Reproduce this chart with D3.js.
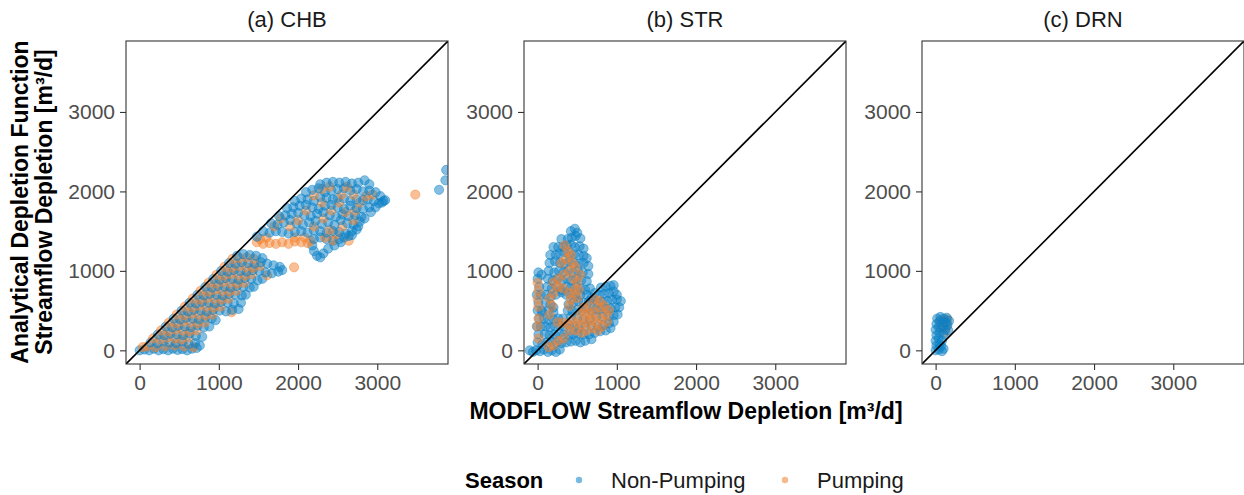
<!DOCTYPE html>
<html>
<head>
<meta charset="utf-8"/>
<script src="https://d3js.org/d3.v7.min.js"></script>
<style type="text/css">
body {
  margin: 0;
  background: #fff;
  font-family: "Liberation Sans", Arial, Helvetica, sans-serif;
}
</style>
</head>
<body>
<div id="v"></div>
<script type="text/javascript">
// axis setup (same for both axes and all panels)
var ticks = [0, 1000, 2000, 3000];
var domain = [-172, 3893];
var panelTitles = ["(a) CHB", "(b) STR", "(c) DRN"];
var seasons = ["Non-Pumping", "Pumping"];
var seasonColors = ["#0a80c6", "#f3822f"];

// (a) CHB, [MODFLOW, analytical]
var chbNonPumping = [
  [0,0],[60,10],[120,0],[180,20],[240,0],[300,15],[360,0],[420,20],[480,5],[540,15],[600,0],[660,20],[720,30],[760,60],
  [140,100],[220,90],[300,110],[380,100],[460,90],[540,110],[620,80],[700,90],
  [230,200],[310,190],[390,210],[470,200],[550,190],[630,210],[710,180],[790,170],
  [330,300],[410,290],[490,310],[570,300],[650,290],[730,310],[810,290],[880,300],
  [430,400],[510,390],[590,410],[670,400],[750,390],[830,410],[910,400],[960,380],
  [530,500],[610,490],[690,510],[770,500],[850,490],[930,510],[1010,500],[1090,490],[1170,510],[1250,520],
  [630,600],[710,590],[790,610],[870,600],[950,590],[1030,610],[1110,600],[1190,590],[1280,600],
  [730,700],[810,690],[890,710],[970,700],[1050,690],[1130,710],[1210,700],[1290,690],[1340,700],
  [830,800],[910,790],[990,810],[1070,800],[1150,790],[1230,810],[1310,800],[1390,790],[1440,800],
  [930,900],[1010,890],[1090,910],[1170,900],[1250,890],[1330,910],[1410,900],[1490,880],[1550,900],
  [1030,1000],[1110,990],[1190,1010],[1270,1000],[1350,990],[1430,1010],[1510,1000],[1590,980],[1670,970],[1750,990],[1800,1010],
  [1130,1100],[1210,1090],[1290,1110],[1370,1100],[1450,1090],[1530,1110],[1610,1090],[1690,1070],[1770,1050],
  [1230,1190],[1310,1210],[1390,1200],[1470,1190],[1550,1160],
  [2280,2090],[2360,2110],[2440,2120],[2520,2110],[2600,2120],[2680,2100],[2760,2110],[2840,2140],[2900,2090],
  [2100,1990],[2180,2020],[2260,2040],[2340,1990],[2420,2010],[2500,2030],[2580,2040],[2660,2010],[2740,2030],[2820,2000],[2900,2010],[2980,1990],[3040,1940],
  [1960,1880],[2040,1910],[2120,1900],[2200,1880],[2280,1930],[2360,1920],[2440,1900],[2500,1920],[2580,1910],[2660,1880],[2740,1900],[2820,1890],[2880,1900],[2960,1880],[3080,1880],[3020,1850],
  [1860,1790],[1940,1800],[2020,1820],[2100,1830],[2180,1800],[2260,1780],[2340,1820],[2420,1830],[2500,1800],[2580,1780],[2660,1820],[2740,1790],[2820,1780],[2900,1800],
  [1760,1690],[1840,1700],[1920,1720],[2000,1730],[2080,1700],[2160,1690],[2240,1720],[2320,1740],[2400,1700],[2480,1680],[2560,1710],[2640,1690],[2720,1700],[2800,1680],
  [1660,1600],[1740,1580],[1820,1610],[1900,1640],[1980,1600],[2060,1580],[2140,1610],[2220,1630],[2300,1590],[2380,1610],[2460,1580],[2540,1640],[2620,1600],[2700,1580],[2780,1620],
  [1560,1500],[1640,1480],[1720,1500],[1800,1490],[1880,1470],[1960,1490],[2040,1500],[2120,1480],[2200,1510],[2280,1500],[2360,1480],[2440,1500],[2520,1490],[2600,1470],[2680,1500],[2740,1520],
  [1480,1430],[2200,1400],[2280,1420],[2360,1400],[2440,1380],[2520,1400],[2580,1420],[2640,1440],
  [2180,1320],[2200,1250],[2240,1190],[2280,1170],[2320,1220],[2380,1280],[2460,1320],[2540,1360],[2680,1450],[2760,1560],[2840,1660],[2920,1740],[2980,1800],[3060,1860],[3100,1890],
  [3780,2020],[3860,2140],[3870,2270]
];
var chbPumping = [
  [40,40],[100,50],[200,40],[320,50],[440,60],[560,50],[680,40],
  [170,150],[260,140],[350,160],[440,150],[530,140],[620,160],
  [270,250],[360,240],[450,260],[540,250],[630,240],[720,250],
  [370,350],[460,340],[550,360],[640,350],[730,340],[820,350],
  [470,450],[560,440],[650,460],[740,450],[830,440],[920,450],
  [570,550],[660,540],[750,560],[840,550],[930,540],[1020,550],
  [670,650],[760,640],[850,660],[940,650],[1030,640],[1120,650],
  [770,750],[860,740],[950,760],[1040,750],[1130,740],[1220,750],
  [870,850],[960,840],[1050,860],[1140,850],[1230,840],[1320,850],
  [970,950],[1060,940],[1150,960],[1240,950],[1330,940],[1420,960],
  [1070,1050],[1160,1040],[1250,1060],[1340,1050],[1430,1040],[1520,1060],
  [1170,1150],[1260,1160],[1350,1170],[1440,1150],
  [1160,480],[1610,945],[1950,1045],
  [1480,1360],[1560,1340],[1640,1350],[1720,1340],[1800,1360],[1880,1340],[1960,1370],[2040,1360],[2120,1350],[2160,1380],[1520,1400],[1600,1420],
  [1700,1560],[1780,1660],[1900,1560],[2000,1640],[2100,1760],[2200,1560],[2320,1660],[2420,1760],[2300,1860],[2200,1950],[2300,2030],[2400,2060],
  [2550,1960],[2620,2060],[2700,1960],[2780,1860],[2860,1940],[2940,1960],[2520,1860],[2600,1740],[2700,1640],[2560,1560],[2480,1460],[2400,1520],
  [2340,1420],[2080,1420],[1960,1420],[2640,1380],[2440,1385],[2720,1760],[3480,1960]
];

// (b) STR
var strNonPumping = [
  [-100,0],[-60,-20],[-20,0],[30,-10],[80,10],[130,-20],[180,0],[230,-20],[280,10],
  [0,100],[10,200],[-10,300],[20,400],[0,500],[10,600],[-10,700],[20,800],[0,900],[10,980],[50,950],[40,700],[50,500],[40,300],
  [420,1500],[470,1530],[500,1480],
  [300,1400],[380,1400],[430,1420],[480,1440],[540,1410],
  [200,1300],[260,1300],[320,1300],[370,1320],[420,1330],[470,1300],[530,1310],[580,1280],
  [160,1200],[230,1200],[280,1220],[340,1230],[400,1200],[460,1210],[520,1200],[580,1190],[620,1160],
  [150,1100],[220,1120],[280,1100],[340,1090],[400,1120],[460,1100],[520,1090],[580,1100],[640,1060],
  [140,1000],[210,980],[270,1000],[330,990],[390,1010],[450,980],[510,1000],[570,980],[640,960],
  [130,900],[190,880],[250,900],[310,880],[370,900],[430,880],[490,900],[550,880],[620,870],
  [120,800],[180,780],[240,800],[300,760],[360,800],[420,790],[480,800],[540,780],[600,760],[660,780],
  [110,700],[170,680],[230,700],[300,730],[360,700],[420,700],[480,680],[540,700],[620,700],[680,660],
  [100,600],[160,580],[200,540],[390,580],[450,600],[510,620],[580,600],[650,620],
  [800,790],[860,800],[920,810],[960,820],
  [720,720],[780,700],[840,710],[900,720],[960,740],[1000,700],
  [700,620],[760,600],[820,610],[880,620],[940,640],[1000,640],[1050,620],
  [60,480],[140,500],[200,480],[380,500],[440,490],[500,510],[560,500],[620,520],[680,500],[740,510],[800,520],[860,520],[920,530],[980,540],[1030,540],
  [80,400],[140,380],[200,390],[260,400],[320,400],[420,420],[500,400],[580,390],[660,400],[740,420],[820,420],[900,430],[960,440],[1010,450],
  [100,300],[160,290],[220,300],[280,310],[340,300],[400,310],[460,300],[520,280],[600,300],[680,310],[760,300],[830,320],[900,340],[960,360],
  [90,200],[150,190],[210,200],[270,210],[330,200],[390,190],[450,200],[510,210],[580,200],[650,200],[720,220],[790,240],[860,250],[920,280],
  [60,80],[120,100],[180,110],[240,100],[300,90],[360,100],[420,110],[480,120],[540,100],[600,120],[680,140]
];
var strPumping = [
  [10,550],[0,650],[10,750],[0,850],[10,400],[0,300],[10,150],
  [340,1320],[380,1250],[420,1200],[360,1150],[300,1100],[440,1100],[400,1000],[330,950],[260,900],[200,850],[450,900],[500,850],
  [260,800],[320,780],[200,720],[150,650],[400,720],[460,760],[520,760],[500,660],[420,640],[180,560],[150,450],[400,560],[540,950],[480,1050],
  [250,350],[320,350],[380,330],[440,380],[500,350],[560,330],[620,360],[680,380],[740,360],[800,400],[860,450],[900,500],[840,560],[780,540],
  [720,480],[660,460],[600,450],[540,460],[780,620],[720,640],[700,280],[760,250],[620,250],[560,220],[480,250],[400,250],[330,150],[260,120],
  [200,60],[140,40],[820,300],[880,360],[640,560],[580,540]
];

// (c) DRN
var drnNonPumping = [
  [0,0],[40,10],[80,-10],[100,20],[10,60],[50,80],[0,120],[40,150],[10,190],[50,220],[0,260],[40,290],[10,330],[50,360],
  [20,400],[60,420],[100,400],[140,410],[170,370],[150,320],[120,260],[160,250],[100,200],[80,120],[70,50],[90,300],[130,350]
];
var drnPumping = [
  [60,380],[110,370],[150,390],[100,330],[70,280],[140,300],[120,230]
];

var width = 1244;
var height = 495;
var panelLeft = [126, 524, 922];
var panelTop = 41;
var panelW = 322;
var panelH = 323;

// layer order: [points, season index]; mixY draws both seasons together, lower points first
var panels = [
  {title: panelTitles[0], layers: [[chbNonPumping, 0], [chbPumping, 1]], mixY: true},
  {title: panelTitles[1], layers: [[strNonPumping, 0], [strPumping, 1]], mixY: false},
  {title: panelTitles[2], layers: [[drnPumping, 1], [drnNonPumping, 0]], mixY: false}
];

var svg = d3.select("#v").append("svg")
  .attr("width", width)
  .attr("height", height);

svg.append("defs").append("clipPath")
  .attr("id", "panelClip")
  .append("rect")
  .attr("width", panelW)
  .attr("height", panelH);

var x = d3.scaleLinear().domain(domain).range([0, panelW]);
var y = d3.scaleLinear().domain(domain).range([panelH, 0]);

panels.forEach(function(p, i) {
  var g = svg.append("g")
    .attr("transform", "translate(" + panelLeft[i] + "," + panelTop + ")");

  var plot = g.append("g").attr("clip-path", "url(#panelClip)");

  var pts = [];
  p.layers.forEach(function(layer) {
    layer[0].forEach(function(d) { pts.push({x: d[0], y: d[1], s: layer[1]}); });
  });
  if (p.mixY) pts.sort(function(a, b) { return a.y - b.y; });

  plot.append("g").selectAll("circle")
    .data(pts).enter()
    .append("circle")
    .attr("cx", function(d) { return x(d.x); })
    .attr("cy", function(d) { return y(d.y); })
    .attr("r", 4.6)
    .attr("fill", function(d) { return seasonColors[d.s]; })
    .attr("fill-opacity", 0.5)
    .attr("stroke", function(d) { return seasonColors[d.s]; })
    .attr("stroke-opacity", 0.45)
    .attr("stroke-width", 1);

  // 1:1 line
  plot.append("line")
    .attr("x1", x(domain[0])).attr("y1", y(domain[0]))
    .attr("x2", x(domain[1])).attr("y2", y(domain[1]))
    .attr("stroke", "#000")
    .attr("stroke-width", 1.6);

  var xAxis = g.append("g")
    .attr("transform", "translate(0," + panelH + ")")
    .call(d3.axisBottom(x).tickValues(ticks).tickSize(6).tickPadding(5).tickFormat(d3.format("d")));
  var yAxis = g.append("g")
    .call(d3.axisLeft(y).tickValues(ticks).tickSize(6).tickPadding(5).tickFormat(d3.format("d")));

  [xAxis, yAxis].forEach(function(a) {
    a.select(".domain").remove();
    a.selectAll(".tick line").attr("stroke", "#333").attr("stroke-width", 1.1);
    a.selectAll(".tick text")
      .attr("fill", "#4d4d4d")
      .style("font-size", "21px")
      .style("font-family", "'Liberation Sans', Arial, sans-serif");
  });

  g.append("rect")
    .attr("width", panelW)
    .attr("height", panelH)
    .attr("fill", "none")
    .attr("stroke", "#333")
    .attr("stroke-width", 1.1);

  g.append("text")
    .attr("x", panelW / 2)
    .attr("y", 27 - panelTop)
    .attr("text-anchor", "middle")
    .attr("fill", "#1a1a1a")
    .style("font-size", "22px")
    .text(p.title);
});

// axis titles
svg.append("text")
  .attr("x", 686)
  .attr("y", 419)
  .attr("text-anchor", "middle")
  .style("font-size", "23px")
  .style("font-weight", "bold")
  .text("MODFLOW Streamflow Depletion [m³/d]");

var yTitle = svg.append("text")
  .attr("transform", "translate(0,202) rotate(-90)")
  .attr("text-anchor", "middle")
  .style("font-size", "23px")
  .style("font-weight", "bold");
yTitle.append("tspan").attr("x", 0).attr("y", 28).text("Analytical Depletion Function");
yTitle.append("tspan").attr("x", 0).attr("y", 52).text("Streamflow Depletion [m³/d]");

// legend
var legend = svg.append("g");
legend.append("text")
  .attr("x", 465)
  .attr("y", 488)
  .style("font-size", "22px")
  .style("font-weight", "bold")
  .text("Season");

var legendDotX = [579, 785];
var legendTextX = [611, 817];
seasons.forEach(function(s, i) {
  legend.append("circle")
    .attr("cx", legendDotX[i])
    .attr("cy", 480)
    .attr("r", 3.2)
    .attr("fill", seasonColors[i])
    .attr("fill-opacity", 0.55);
  legend.append("text")
    .attr("x", legendTextX[i])
    .attr("y", 488)
    .attr("fill", "#1a1a1a")
    .style("font-size", "22px")
    .text(s);
});
</script>
</body>
</html>
